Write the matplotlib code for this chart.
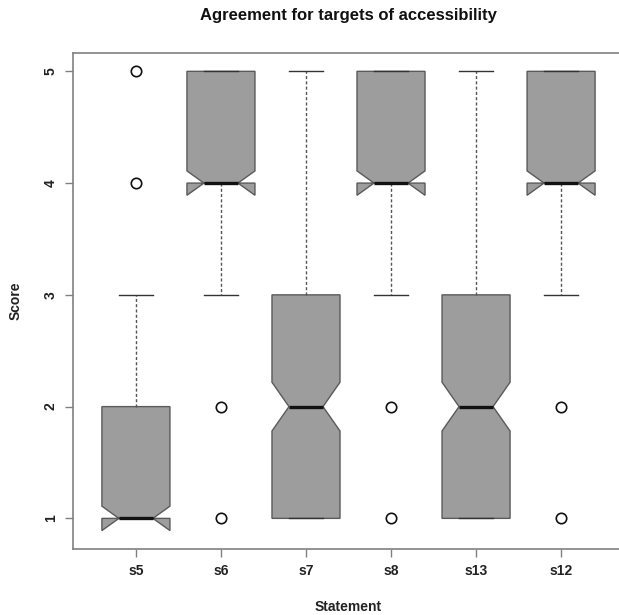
import numpy as np
import matplotlib
matplotlib.use("Agg")
import matplotlib.pyplot as plt

# Likert agreement scores (1-5) per statement
statements = ["s5", "s6", "s7", "s8", "s13", "s12"]
q1 = [1, 4, 1, 4, 1, 4]
median = [1, 4, 2, 4, 2, 4]
q3 = [2, 5, 3, 5, 3, 5]
whisker_low = [1, 3, 1, 3, 1, 3]
whisker_high = [3, 5, 5, 5, 5, 5]
outliers = [[4, 5], [1, 2], [], [1, 2], [], [1, 2]]
n_responses = 210
y_ticks = [1, 2, 3, 4, 5]

plt.rcParams["font.family"] = ["Liberation Sans", "DejaVu Sans"]

fig = plt.figure(figsize=(6.19, 6.15), dpi=100)
ax = fig.add_axes([73 / 619, 1 - 549 / 615, 551 / 619, 496 / 615])

stats = []
for i, name in enumerate(statements):
    iqr = q3[i] - q1[i]
    half_notch = 1.58 * iqr / np.sqrt(n_responses)
    stats.append(dict(
        label=name,
        q1=q1[i], med=median[i], q3=q3[i],
        whislo=whisker_low[i], whishi=whisker_high[i],
        fliers=np.array(outliers[i], dtype=float),
        cilo=median[i] - half_notch, cihi=median[i] + half_notch,
    ))

positions = np.arange(1, len(statements) + 1)
ax.bxp(
    stats, positions=positions, widths=0.8, shownotches=True,
    patch_artist=True, manage_ticks=False,
    boxprops=dict(facecolor="#9d9d9d", edgecolor="#5a5a5a", linewidth=1.0),
    medianprops=dict(color="#111111", linewidth=2.4, solid_capstyle="butt", zorder=4),
    whiskerprops=dict(color="#555555", linewidth=1.0, linestyle=(0, (2.2, 1.6))),
    capprops=dict(color="#333333", linewidth=1.0, zorder=3),
    flierprops=dict(marker="o", markerfacecolor="none", markeredgecolor="#111111",
                    markersize=7.5, markeredgewidth=1.2),
)

ax.set_xlim(0.26, 6.74)
ax.set_ylim(0.726, 5.164)
ax.set_xticks(positions)
ax.set_xticklabels(statements, fontweight="bold")
ax.set_yticks(y_ticks)
ax.set_yticklabels([str(v) for v in y_ticks], rotation=90, va="center",
                   fontweight="bold")

for side in ["left", "bottom", "top", "right"]:
    ax.spines[side].set_color("#808080")
    ax.spines[side].set_linewidth(1.2)
ax.tick_params(axis="both", length=6, width=1.0, color="#808080",
               labelsize=10, labelcolor="#222222", pad=5)

ax.set_title("Agreement for targets of accessibility", fontsize=12,
             fontweight="bold", color="#111111", pad=24)
ax.set_xlabel("Statement", fontsize=10, fontweight="bold", color="#222222", labelpad=15.5)
ax.set_ylabel("Score", fontsize=10, fontweight="bold", color="#222222", labelpad=15)

fig.savefig("out.png", dpi=100, facecolor="white")
